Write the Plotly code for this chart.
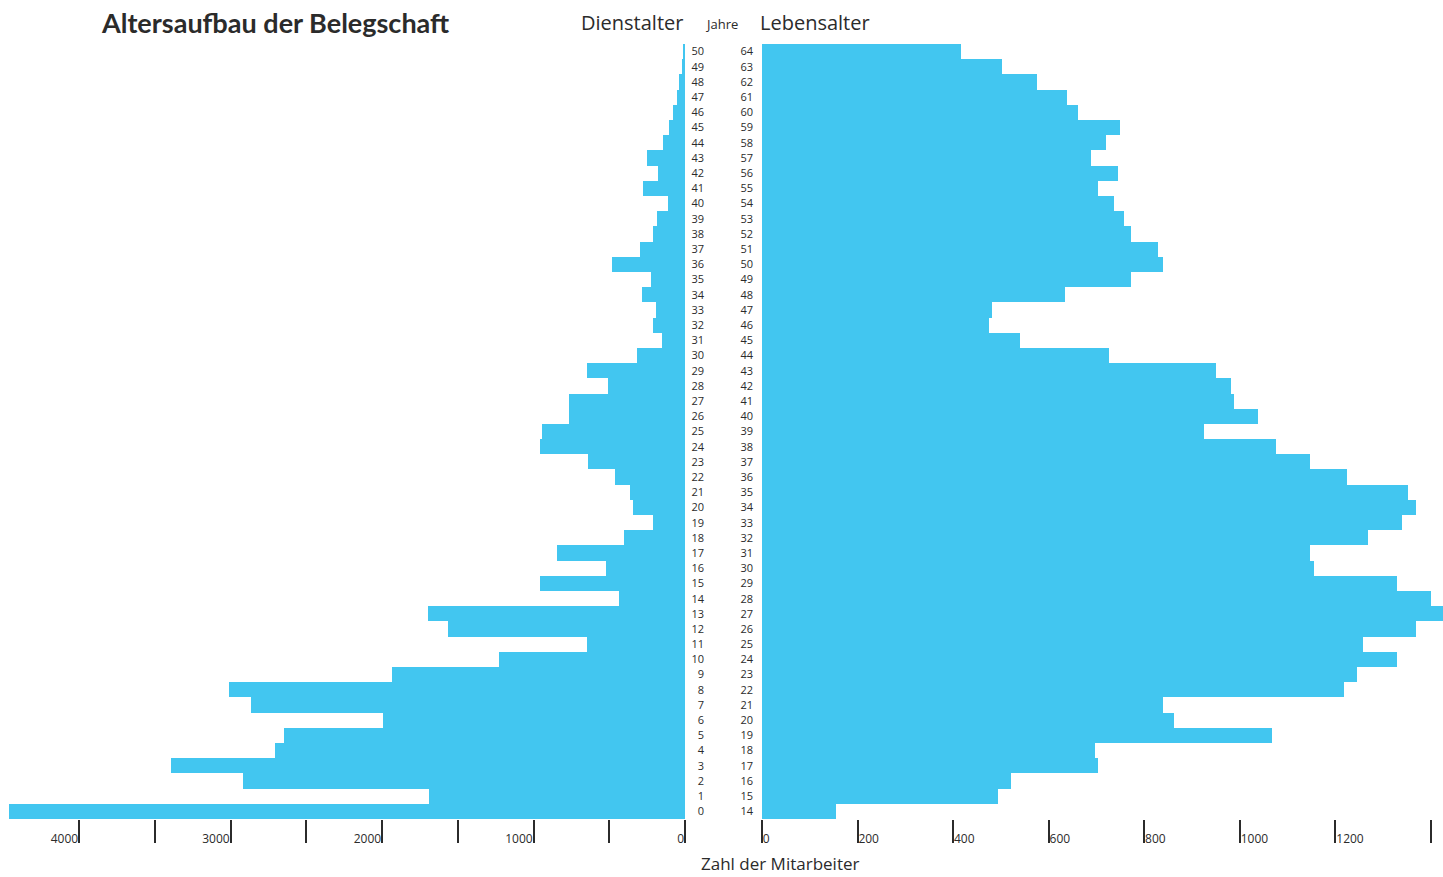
import plotly.graph_objects as go

# Dienstalter (years of service) 0..50 and number of employees
service_years = list(range(0, 51))
service_counts = [4463, 1687, 2918, 3393, 2706, 2650, 1996, 2863, 3013, 1937,
                  1230, 644, 1566, 1698, 434, 956, 520, 847, 405, 211,
                  343, 363, 462, 638, 957, 944, 764, 764, 511, 649,
                  319, 154, 209, 191, 286, 226, 480, 297, 213, 187,
                  110, 275, 176, 253, 143, 108, 77, 55, 38, 22, 15]

# Lebensalter (age) 14..64 and number of employees
ages = list(range(14, 65))
age_counts = [155, 493, 521, 703, 696, 1067, 862, 839, 1217, 1245,
              1328, 1257, 1368, 1425, 1399, 1328, 1155, 1146, 1267, 1339,
              1369, 1351, 1225, 1146, 1076, 925, 1037, 987, 982, 950,
              726, 539, 474, 481, 633, 773, 840, 828, 773, 758,
              736, 704, 745, 688, 719, 750, 662, 638, 575, 503, 416]

left_tickvals = [0, 1000, 2000, 3000, 4000]
left_ticktext = ["0", "1000", "2000", "3000", "4000"]
left_minor_tickvals = [500, 1500, 2500, 3500]
right_tickvals = [0, 200, 400, 600, 800, 1000, 1200, 1400]
right_ticktext = ["0", "200", "400", "600", "800", "1000", "1200", ""]

W, H = 1443, 877
BAR = "#42C6F0"
INK = "#2b2b2b"
FONT = "Open Sans"

def px(x):
    return x / W

def py(y):
    return 1 - y / H

ydom = [py(819), py(44)]

fig = go.Figure()
fig.add_trace(go.Bar(y=service_years, x=service_counts, orientation="h",
                     xaxis="x", yaxis="y", width=1.0,
                     marker=dict(color=BAR, line=dict(width=0)),
                     hoverinfo="x+y", showlegend=False))
fig.add_trace(go.Bar(y=ages, x=age_counts, orientation="h",
                     xaxis="x2", yaxis="y2", width=1.0,
                     marker=dict(color=BAR, line=dict(width=0)),
                     hoverinfo="x+y", showlegend=False))

tick_common = dict(ticks="outside", ticklen=23, tickwidth=1.6, tickcolor=INK,
                   showgrid=False, zeroline=False, showline=False,
                   ticklabelstandoff=9,
                   tickfont=dict(family=FONT, size=12, color=INK))

fig.update_layout(
    width=W, height=H,
    margin=dict(l=0, r=0, t=0, b=0),
    paper_bgcolor="white", plot_bgcolor="white",
    bargap=0,
    xaxis=dict(domain=[0, px(685)], range=[(685) / 0.1515, 0], anchor="y",
               tickvals=left_tickvals, ticktext=left_ticktext,
               ticklabelposition="outside left",
               minor=dict(tickvals=left_minor_tickvals, ticks="outside", ticklen=23,
                          tickwidth=1.6, tickcolor=INK, showgrid=False),
               **tick_common),
    xaxis2=dict(domain=[px(762), 1], range=[0, (W - 762) / 0.4779], anchor="y2",
                tickvals=right_tickvals, ticktext=right_ticktext,
                ticklabelposition="outside right",
                **tick_common),
    yaxis=dict(domain=ydom, range=[-0.5, 50.5], anchor="free", position=px(704),
               side="left", tickvals=service_years, ticks="", showgrid=False,
               zeroline=False, showline=False,
               tickfont=dict(family=FONT, size=11, color=INK)),
    yaxis2=dict(domain=ydom, range=[13.5, 64.5], anchor="x2", side="left",
                tickvals=ages, ticks="", showgrid=False, zeroline=False,
                showline=False, ticklabelstandoff=8,
                tickfont=dict(family=FONT, size=11, color=INK)),
    annotations=[
        dict(text="<b>Altersaufbau der Belegschaft</b>", x=px(99), y=py(22),
             xref="paper", yref="paper", xanchor="left", yanchor="middle",
             showarrow=False, font=dict(family="Lato", size=27, color=INK)),
        dict(text="Dienstalter", x=px(685), y=py(23), xref="paper", yref="paper",
             xanchor="right", yanchor="middle", showarrow=False,
             font=dict(family=FONT, size=20, color=INK)),
        dict(text="Jahre", x=px(722), y=py(24), xref="paper", yref="paper",
             xanchor="center", yanchor="middle", showarrow=False,
             font=dict(family=FONT, size=13, color=INK)),
        dict(text="Lebensalter", x=px(758), y=py(23), xref="paper", yref="paper",
             xanchor="left", yanchor="middle", showarrow=False,
             font=dict(family=FONT, size=20, color=INK)),
        dict(text="Zahl der Mitarbeiter", x=px(780), y=0, xref="paper",
             yref="paper", xanchor="center", yanchor="bottom", showarrow=False,
             font=dict(family=FONT, size=17, color=INK)),
    ],
)

fig.write_html("out.html", config={"displayModeBar": False})

# remove the default page margin so the figure fills the window exactly
with open("out.html", "r", encoding="utf-8") as f:
    html = f.read()
html = html.replace("<head>", "<head><style>html,body{margin:0;padding:0;overflow:hidden;}</style>", 1)
with open("out.html", "w", encoding="utf-8") as f:
    f.write(html)
